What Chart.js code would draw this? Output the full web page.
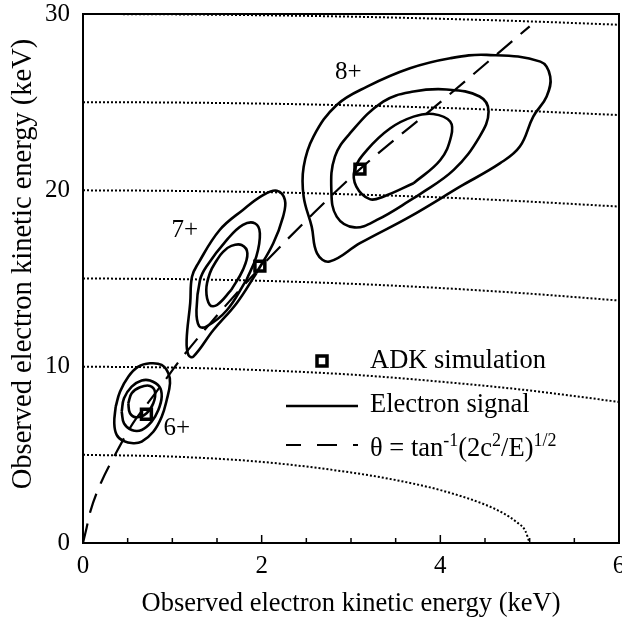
<!DOCTYPE html>
<html>
<head>
<meta charset="utf-8">
<script src="https://cdn.jsdelivr.net/npm/chart.js@4.4.1/dist/chart.umd.min.js"></script>
<style>
  body { margin: 0; background: #fff; }
  #wrap { width: 622px; height: 620px; }
</style>
</head>
<body>
<div id="wrap"><canvas id="myChart" width="622" height="620"></canvas></div>
<script>
// tick labels shown on the axes
var xTickLabels = [0, 2, 4, 6];
var yTickLabels = [0, 10, 20, 30];

// dotted constant-energy curves (keV)
var arcX = [0, 1, 2, 3, 4, 5, 6];
var arc10 = [10, 9.95, 9.8, 9.55, 9.15, 8.65, 8.0];
var arc15 = [15, 14.97, 14.87, 14.7, 14.46, 14.14, 13.75];
var arc20 = [20, 19.97, 19.9, 19.77, 19.6, 19.36, 19.08];
var arc25 = [25, 24.98, 24.92, 24.82, 24.68, 24.49, 24.27];
var arc30 = [30, 29.98, 29.93, 29.85, 29.73, 29.58, 29.39];
var arc5X = [0, 1, 2, 3, 3.5, 4, 4.5, 4.7, 4.85, 4.95, 5];
var arc5Y = [5, 4.9, 4.6, 4.0, 3.57, 3.0, 2.18, 1.7, 1.2, 0.7, 0];

// dashed theta curve
var thetaX = [0, 0.04, 0.08, 0.2, 0.38, 0.56, 0.72, 0.9, 1.09, 1.5, 1.98, 2.58, 3.1, 4.0, 5.0];
var thetaY = [0, 0.85, 1.75, 3.4, 5.2, 6.8, 7.9, 9.1, 10.4, 12.9, 15.6, 18.7, 21.2, 25.0, 29.3];

// ADK simulation points
var adkX = [0.71, 1.98, 3.10];
var adkY = [7.3, 15.7, 21.2];

// charge state labels
var ionLabels = ['6+', '7+', '8+'];
var ionLabelX = [1.05, 1.14, 2.97];
var ionLabelY = [6.5, 17.7, 26.7];

// electron signal contours, [x, y] around each loop
var c6Outer = [[0.366, 7.73], [0.414, 8.58], [0.507, 9.43], [0.619, 10.0], [0.75, 10.19], [0.88, 10.1],
  [0.955, 9.63], [0.974, 9.06], [0.937, 8.11], [0.881, 7.16], [0.787, 6.31], [0.657, 5.75],
  [0.563, 5.66], [0.451, 5.79], [0.377, 6.13], [0.350, 6.79]];
var c6Mid = [[0.433, 7.45], [0.459, 8.21], [0.545, 8.87], [0.657, 9.21], [0.75, 9.21], [0.854, 8.87],
  [0.881, 8.30], [0.843, 7.54], [0.768, 6.88], [0.657, 6.41], [0.545, 6.41], [0.459, 6.79]];
var c6Inner = [[0.507, 7.92], [0.545, 8.49], [0.638, 8.83], [0.75, 8.91], [0.806, 8.58], [0.787, 7.92],
  [0.712, 7.36], [0.60, 7.13], [0.526, 7.36]];

var c7Outer = [[1.94, 15.3], [1.72, 13.6], [1.46, 12.08], [1.235, 10.57], [1.18, 10.66], [1.16, 11.5],
  [1.20, 13.6], [1.22, 15.1], [1.29, 15.86], [1.53, 17.75], [1.79, 18.89], [2.02, 19.74],
  [2.17, 19.98], [2.26, 19.46], [2.24, 18.51], [2.13, 17.0]];
var c7Mid = [[1.83, 14.92], [1.61, 13.2], [1.38, 12.27], [1.30, 12.3], [1.27, 13.2], [1.31, 14.92],
  [1.38, 15.67], [1.61, 17.19], [1.79, 18.04], [1.925, 18.13], [1.98, 17.57], [1.94, 16.24]];
var c7Inner = [[1.66, 14.35], [1.50, 13.5], [1.42, 13.5], [1.38, 14.35], [1.42, 15.3], [1.50, 16.05],
  [1.57, 16.52], [1.66, 16.85], [1.775, 16.9], [1.84, 16.43], [1.79, 15.49]];

var c8Outer = [[4.22, 20.21], [3.66, 18.51], [3.10, 17.0], [2.76, 15.96], [2.62, 16.43], [2.56, 17.94],
  [2.47, 19.64], [2.47, 21.34], [2.58, 23.05], [2.84, 24.84], [3.18, 25.88], [3.66, 26.92],
  [4.11, 27.49], [4.52, 27.68], [5.12, 27.3], [5.23, 26.45], [5.19, 25.32], [5.04, 24.18],
  [4.89, 22.48], [4.67, 21.54]];
var c8Mid = [[3.73, 19.64], [3.29, 18.32], [3.04, 17.9], [2.84, 18.51], [2.78, 20.02], [2.82, 21.91],
  [2.99, 23.24], [3.36, 25.03], [3.70, 25.6], [4.07, 25.72], [4.44, 25.32], [4.54, 24.47],
  [4.44, 23.05], [4.15, 21.16]];
var c8Inner = [[3.70, 20.4], [3.36, 19.64], [3.21, 19.5], [3.06, 20.21], [3.04, 21.16], [3.18, 22.29],
  [3.44, 23.52], [3.70, 24.18], [3.92, 24.33], [4.11, 23.9], [4.12, 23.05], [4.0, 21.72]];

var axisTitle = 'Observed electron kinetic energy (keV)';
var serif = '"Liberation Serif", "Times New Roman", serif';

function pairs(xs, ys) {
  return xs.map(function (x, i) { return { x: x, y: ys[i] }; });
}

function loop(pts) {
  var d = pts.map(function (p) { return { x: p[0], y: p[1] }; });
  d.push(d[0]); // close the contour
  return d;
}

function dotted(data) {
  return { data: data, showLine: true, borderColor: '#000', borderWidth: 2, borderDash: [2, 2],
    pointRadius: 0, cubicInterpolationMode: 'monotone', fill: false };
}

function contour(pts) {
  return { data: loop(pts), showLine: true, borderColor: '#000', borderWidth: 2.6,
    pointRadius: 0, tension: 0.4, fill: false };
}

var datasets = [
  dotted(pairs(arc5X, arc5Y)),
  dotted(pairs(arcX, arc10)),
  dotted(pairs(arcX, arc15)),
  dotted(pairs(arcX, arc20)),
  dotted(pairs(arcX, arc25)),
  dotted(pairs(arcX, arc30)),
  contour(c6Outer), contour(c6Mid), contour(c6Inner),
  contour(c7Outer), contour(c7Mid), contour(c7Inner),
  contour(c8Outer), contour(c8Mid), contour(c8Inner),
  {
    data: pairs(thetaX, thetaY), showLine: true, borderColor: '#000', borderWidth: 2.2,
    borderDash: [20, 11], pointRadius: 0, cubicInterpolationMode: 'monotone', fill: false
  },
  {
    data: pairs(adkX, adkY), showLine: false, pointStyle: 'rect', pointRadius: 7,
    pointBorderWidth: 3.5, pointBorderColor: '#000', pointBackgroundColor: '#fff'
  }
];

// box, inward ticks, y title, ion labels and legend
var extras = {
  id: 'extras',
  afterDraw: function (chart) {
    var ctx = chart.ctx;
    var area = chart.chartArea;
    var xs = chart.scales.x;
    var ys = chart.scales.y;
    ctx.save();
    ctx.strokeStyle = '#000';
    ctx.lineWidth = 2;
    ctx.strokeRect(area.left, area.top, area.right - area.left, area.bottom - area.top);

    ctx.lineWidth = 1.5;
    xs.ticks.forEach(function (t) {
      if (t.value <= 0 || t.value >= 6) return;
      var px = xs.getPixelForValue(t.value);
      var len = xTickLabels.indexOf(t.value) >= 0 ? 8 : 5;
      ctx.beginPath();
      ctx.moveTo(px, area.bottom);
      ctx.lineTo(px, area.bottom - len);
      ctx.stroke();
    });

    ctx.fillStyle = '#000';
    ctx.textAlign = 'center';
    ctx.textBaseline = 'middle';

    // y axis title, rotated
    ctx.save();
    ctx.translate(24, area.top + 250);
    ctx.rotate(-Math.PI / 2);
    ctx.font = '28.5px ' + serif;
    ctx.fillText(axisTitle, 0, 0);
    ctx.restore();

    ctx.font = '25px ' + serif;
    ionLabels.forEach(function (lab, i) {
      ctx.fillText(lab, xs.getPixelForValue(ionLabelX[i]), ys.getPixelForValue(ionLabelY[i]));
    });

    // legend
    var lx0 = area.left + 203, lx1 = area.left + 275, tx = area.left + 287;
    var mx = (lx0 + lx1) / 2;
    var my = area.top + 347;
    ctx.lineWidth = 3.5;
    ctx.fillStyle = '#fff';
    ctx.fillRect(mx - 5, my - 5, 10, 10);
    ctx.strokeRect(mx - 5, my - 5, 10, 10);

    ctx.lineWidth = 2.6;
    ctx.beginPath();
    ctx.moveTo(lx0, area.top + 392);
    ctx.lineTo(lx1, area.top + 392);
    ctx.stroke();

    ctx.lineWidth = 2.2;
    ctx.setLineDash([20, 16]);
    ctx.lineDashOffset = 5;
    ctx.beginPath();
    ctx.moveTo(lx0, area.top + 431);
    ctx.lineTo(lx1, area.top + 431);
    ctx.stroke();
    ctx.setLineDash([]);

    ctx.fillStyle = '#000';
    ctx.textAlign = 'left';
    ctx.textBaseline = 'alphabetic';
    ctx.font = '26.5px ' + serif;
    ctx.fillText('ADK simulation', tx, area.top + 354);
    ctx.fillText('Electron signal', tx, area.top + 398);

    var parts = [['θ = tan', 0], ['-1', 1], ['(2c', 0], ['2', 1], ['/E)', 0], ['1/2', 1]];
    var cx = tx, base = area.top + 442;
    parts.forEach(function (p) {
      ctx.font = (p[1] ? '18px ' : '26.5px ') + serif;
      ctx.fillText(p[0], cx, p[1] ? base - 10 : base);
      cx += ctx.measureText(p[0]).width;
    });
    ctx.restore();
  }
};

var ctx = document.getElementById('myChart').getContext('2d');
var myChart = new Chart(ctx, {
  type: 'scatter',
  data: { datasets: datasets },
  options: {
    responsive: false,
    animation: false,
    events: [],
    layout: { autoPadding: false, padding: { top: 14, right: 3, left: 0, bottom: 0 } },
    plugins: { legend: { display: false }, tooltip: { enabled: false } },
    scales: {
      x: {
        type: 'linear',
        min: 0,
        max: 6,
        afterFit: function (s) {
          s.height = 77;
          s.paddingLeft = 0;
          s.paddingRight = 0;
        },
        grid: { display: false, drawTicks: false },
        border: { display: true, color: '#000', width: 2 },
        ticks: {
          stepSize: 0.5,
          autoSkip: false,
          maxRotation: 0,
          padding: 8,
          color: '#000',
          font: { family: serif, size: 25 },
          callback: function (v) { return xTickLabels.indexOf(v) >= 0 ? String(v) : ''; }
        },
        title: {
          display: true,
          text: axisTitle,
          color: '#000',
          font: { family: serif, size: 26.5 },
          padding: { top: 0, bottom: 0 }
        }
      },
      y: {
        type: 'linear',
        min: 0,
        max: 30,
        afterFit: function (s) {
          s.width = 83;
          s.paddingTop = 0;
          s.paddingBottom = 0;
        },
        grid: { display: false, drawTicks: false },
        border: { display: true, color: '#000', width: 2 },
        ticks: {
          stepSize: 10,
          padding: 13,
          color: '#000',
          font: { family: serif, size: 25 },
          callback: function (v) { return yTickLabels.indexOf(v) >= 0 ? String(v) : ''; }
        }
      }
    }
  },
  plugins: [extras]
});
</script>
</body>
</html>
